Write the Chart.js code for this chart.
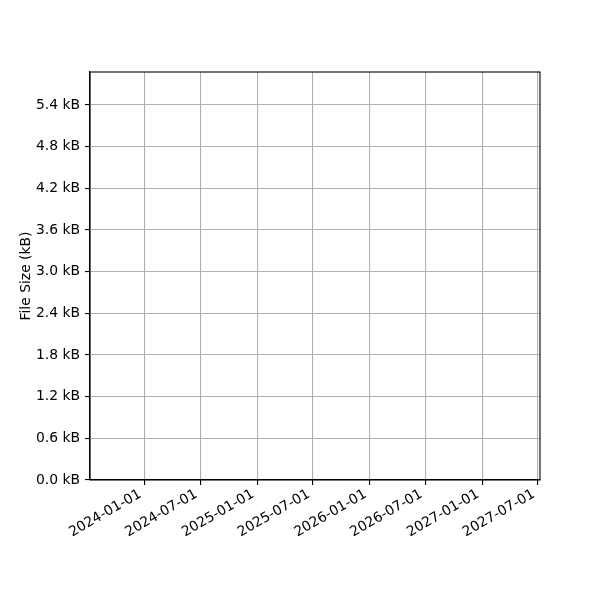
<!DOCTYPE html>
<html>
<head>
<meta charset="utf-8">
<script src="https://cdn.jsdelivr.net/npm/chart.js@4/dist/chart.umd.min.js"></script>
<style>
html,body{margin:0;padding:0;background:#fff;}
#wrap{width:600px;height:600px;}
</style>
</head>
<body>
<div id="wrap"><canvas id="c" width="600" height="600"></canvas></div>
<script>
// ---- data ----
const fileSizes = [];            // no points in the reference: empty series
const dateTicks = ['2024-01-01','2024-07-01','2025-01-01','2025-07-01','2026-01-01','2026-07-01','2027-01-01','2027-07-01'];
const sizeTicks = [0.0, 0.6, 1.2, 1.8, 2.4, 3.0, 3.6, 4.2, 4.8, 5.4];
const xRange = ['2023-07-09', '2027-07-08'];
const yRange = [0, 5.875];
const yTitle = 'File Size (kB)';

const dayOf = s => Date.parse(s + 'T00:00:00Z') / 86400000;
const labelByDay = {};
dateTicks.forEach(s => { labelByDay[dayOf(s)] = s; });

Chart.defaults.font.family = 'DejaVu Sans';
Chart.defaults.font.size = 13.9;
Chart.defaults.color = '#000';

const frame = {
  id: 'frame',
  afterDraw(chart) {
    const a = chart.chartArea, ctx = chart.ctx;
    ctx.save();
    ctx.strokeStyle = '#000';
    ctx.lineWidth = 1.1;
    ctx.strokeRect(a.left, a.top, a.right - a.left, a.bottom - a.top);
    ctx.restore();
  }
};

new Chart(document.getElementById('c'), {
  type: 'scatter',
  data: { datasets: [{ data: fileSizes, pointRadius: 3, backgroundColor: '#1f77b4' }] },
  options: {
    responsive: false,
    devicePixelRatio: 1,
    animation: false,
    layout: { padding: { top: 72, right: 60, left: 0, bottom: 0 } },
    plugins: { legend: { display: false }, tooltip: { enabled: false } },
    scales: {
      x: {
        type: 'linear',
        min: dayOf(xRange[0]),
        max: dayOf(xRange[1]),
        afterBuildTicks: s => { s.ticks = dateTicks.map(d => ({ value: dayOf(d) })); },
        afterFit: s => { s.height = 120; },
        grid: { color: '#b0b0b0', lineWidth: 1.1, tickColor: '#000', tickLength: 5, drawTicks: true },
        border: { display: true, color: '#000', width: 1.1 },
        ticks: {
          autoSkip: false,
          minRotation: 30,
          maxRotation: 30,
          padding: 1,
          labelOffset: -4,
          color: '#000',
          callback: v => labelByDay[v] || ''
        }
      },
      y: {
        type: 'linear',
        min: yRange[0],
        max: yRange[1],
        afterBuildTicks: s => { s.ticks = sizeTicks.map(v => ({ value: v })); },
        afterFit: s => { s.width = 90; },
        grid: { color: '#b0b0b0', lineWidth: 1.1, tickColor: '#000', tickLength: 5, drawTicks: true },
        border: { display: true, color: '#000', width: 1.1 },
        title: { display: true, text: yTitle, color: '#000', padding: { top: 18, bottom: 0 } },
        ticks: {
          padding: 5,
          color: '#000',
          callback: v => v.toFixed(1) + ' kB'
        }
      }
    }
  },
  plugins: [frame]
});
</script>
</body>
</html>
